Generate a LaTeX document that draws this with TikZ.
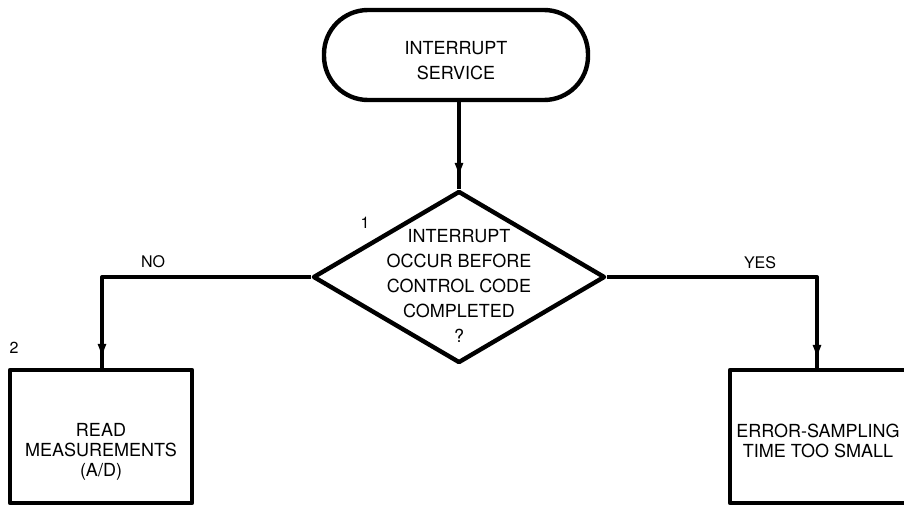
\documentclass[tikz,border=0pt]{standalone}
\usepackage{fontspec}
\setmainfont{TeX Gyre Heros}
\usetikzlibrary{shapes.geometric,arrows.meta,decorations.markings}
\begin{document}
\begin{tikzpicture}[x=1pt,y=-1pt,
  every node/.style={font=\fontsize{18}{25}\selectfont, align=center, inner sep=0pt},
  shp/.style={draw, line width=4.4pt, line join=round},
  conn/.style={line width=4pt, line join=round},
  midarrow/.style={postaction={decorate}, decoration={markings,
     mark=at position #1 with {\arrow{Latex[length=17pt,width=9pt]}}}},
  boxtext/.style={font=\fontsize{18}{20}\selectfont},
  lbl/.style={font=\fontsize{16}{18}\selectfont}]
\useasboundingbox (0,0) rectangle (904,506);
% shapes
\node[shp, rectangle, rounded corners=44pt, minimum width=264pt, minimum height=90pt] (term) at (456,55) {};
\node (termtext) at (456,60.5) {INTERRUPT\\SERVICE};
\node[shp, diamond, minimum width=292pt, minimum height=172pt] (dec) at (459,277) {};
\node (dectext) at (459,286) {INTERRUPT\\OCCUR BEFORE\\CONTROL CODE\\COMPLETED\\?};
\node[shp, rectangle, minimum width=182pt, minimum height=133pt] (read) at (101,436.5) {};
\node[boxtext] (readtext) at (101,452) {READ\\MEASUREMENTS\\(A/D)};
\node[shp, rectangle, minimum width=180pt, minimum height=133pt] (err) at (820,436.5) {};
\node[boxtext] (errtext) at (818,441) {ERROR-SAMPLING\\TIME TOO SMALL};
% labels
\node[lbl] (n1) at (365,223) {1};
\node[lbl] (n2) at (14,348) {2};
\node[lbl] (no) at (153,262) {NO};
\node[lbl] (yes) at (760,263) {YES};
% connectors
\draw[conn, midarrow=-9pt] (term.south -| dec.north) -- (dec.north);
\coordinate (lc) at (102,277);
\coordinate (rc) at (817,277);
\draw[conn, midarrow=-7pt] (dec.west) -- (lc) -- (lc |- read.north);
\draw[conn, midarrow=-6pt] (dec.east) -- (rc) -- (rc |- err.north);
\end{tikzpicture}
\end{document}
